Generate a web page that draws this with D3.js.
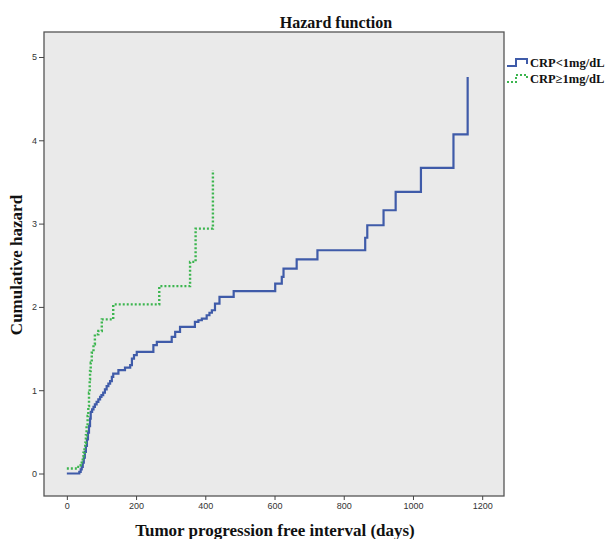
<!DOCTYPE html>
<html>
<head>
<meta charset="utf-8">
<script src="https://cdn.jsdelivr.net/npm/d3@7"></script>
<style>
  body { margin: 0; background: #fff; }
  svg { display: block; }
  .tick text { font-family: "Liberation Sans", Arial, sans-serif; font-size: 9px; fill: #333; }
  .tick line { stroke: #444; }
  .ttl { font-family: "Liberation Serif", "Times New Roman", serif; font-weight: bold; fill: #111; }
</style>
</head>
<body>
<div id="chart"></div>
<script>
// Cumulative hazard (days, hazard)
const blueDays = [0, 36, 40, 43, 46, 49, 52, 55, 58, 61, 64, 67, 69, 73, 77, 81, 86, 91, 96, 100,
  105, 110, 115, 120, 125, 130, 134, 149, 168, 183, 188, 194, 202, 250, 260, 303, 313, 327, 370, 380,
  390, 404, 412, 419, 428, 441, 482, 602, 621, 626, 664, 724, 862, 868, 915, 950, 1023, 1117, 1158];
const blueHaz = [0, 0.02, 0.05, 0.08, 0.13, 0.19, 0.26, 0.33, 0.41, 0.49, 0.57, 0.66, 0.74, 0.77, 0.80, 0.83, 0.86, 0.89, 0.92, 0.94,
  0.97, 1.01, 1.05, 1.08, 1.11, 1.16, 1.20, 1.24, 1.27, 1.30, 1.38, 1.42, 1.46, 1.54, 1.58, 1.64, 1.70, 1.76, 1.82, 1.84,
  1.86, 1.90, 1.93, 1.96, 2.04, 2.12, 2.19, 2.28, 2.36, 2.46, 2.57, 2.68, 2.83, 2.98, 3.16, 3.38, 3.67, 4.07, 4.76];

const greenDays = [0, 29, 36, 40, 43, 46, 48, 51, 53, 55, 57, 60, 62, 64, 66, 67, 69, 72, 77, 81,
  91, 101, 134, 267, 356, 372, 422];
const greenHaz = [0.06, 0.08, 0.10, 0.12, 0.15, 0.20, 0.25, 0.31, 0.37, 0.46, 0.57, 0.69, 0.81, 0.97, 1.13, 1.23, 1.33, 1.45, 1.55, 1.67,
  1.71, 1.85, 2.03, 2.25, 2.54, 2.94, 3.64];

const seriesNames = ["CRP<1mg/dL", "CRP\u22651mg/dL"];
const xTicks = [0, 200, 400, 600, 800, 1000, 1200];
const yTicks = [0, 1, 2, 3, 4, 5];

const W = 611, H = 539;
const plot = { left: 44, right: 504, top: 32, bottom: 496 };

const svg = d3.select("#chart").append("svg").attr("width", W).attr("height", H);

const x = d3.scaleLinear().domain([-66, 1263]).range([plot.left, plot.right]);
const y = d3.scaleLinear().domain([-0.27, 5.3]).range([plot.bottom, plot.top]);

// background + frame
svg.append("rect")
  .attr("x", plot.left).attr("y", plot.top)
  .attr("width", plot.right - plot.left).attr("height", plot.bottom - plot.top)
  .attr("fill", "#eaeaea").attr("stroke", "#555").attr("stroke-width", 1.3);

// axes
const yAxis = svg.append("g")
  .attr("transform", `translate(${plot.left},0)`)
  .call(d3.axisLeft(y).tickValues(yTicks).tickFormat(d3.format("d")).tickSize(5).tickPadding(2));
yAxis.select(".domain").remove();

const xAxis = svg.append("g")
  .attr("transform", `translate(0,${plot.bottom})`)
  .call(d3.axisBottom(x).tickValues(xTicks).tickFormat(d3.format("d")).tickSize(4).tickPadding(3));
xAxis.select(".domain").remove();

// step curves
const line = d3.line()
  .x((d) => x(d[0]))
  .y((d) => y(d[1]))
  .curve(d3.curveStepAfter);

const blue = blueDays.map((d, i) => [d, blueHaz[i]]);
const green = greenDays.map((d, i) => [d, greenHaz[i]]);

svg.append("path")
  .attr("d", line(blue))
  .attr("fill", "none")
  .attr("stroke", "#3f5ba9")
  .attr("stroke-width", 2.2);

svg.append("path")
  .attr("d", line(green))
  .attr("fill", "none")
  .attr("stroke", "#3cb54f")
  .attr("stroke-width", 2.4)
  .attr("stroke-dasharray", "2,2");

// titles
svg.append("text").attr("class", "ttl")
  .attr("x", 336).attr("y", 28)
  .attr("text-anchor", "middle").style("font-size", "16px")
  .text("Hazard function");

svg.append("text").attr("class", "ttl")
  .attr("transform", "translate(22,265) rotate(-90)")
  .attr("text-anchor", "middle").style("font-size", "17px")
  .text("Cumulative hazard");

svg.append("text").attr("class", "ttl")
  .attr("x", 275).attr("y", 536)
  .attr("text-anchor", "middle").style("font-size", "17px")
  .text("Tumor progression free interval (days)");

// legend
const legendY = [63, 79];
const legendStyle = [
  { stroke: "#3f5ba9", dash: null },
  { stroke: "#3cb54f", dash: "2,2" },
];
seriesNames.forEach((name, i) => {
  const ly = legendY[i];
  svg.append("path")
    .attr("d", `M507,${ly + 3}H516V${ly - 4}H527V${ly + 1}`)
    .attr("fill", "none")
    .attr("stroke", legendStyle[i].stroke)
    .attr("stroke-width", 2)
    .attr("stroke-dasharray", legendStyle[i].dash);
  svg.append("text").attr("class", "ttl")
    .attr("x", 530).attr("y", ly + 4)
    .style("font-size", "12.5px")
    .text(name);
});
</script>
</body>
</html>
